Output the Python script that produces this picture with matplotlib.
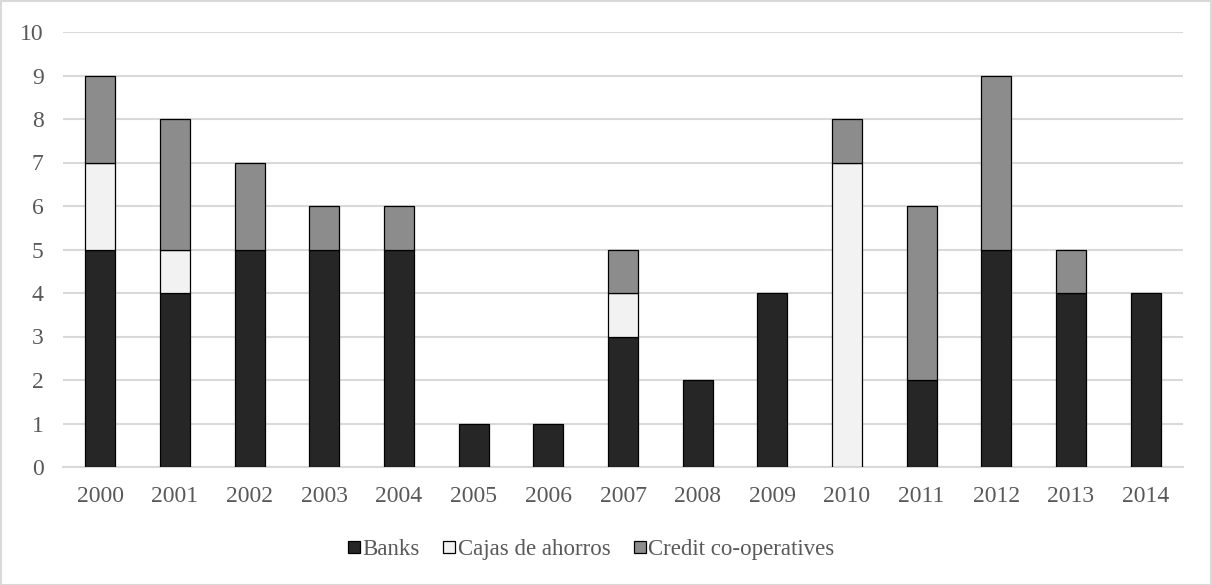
import matplotlib
matplotlib.use("Agg")
import matplotlib.pyplot as plt
from matplotlib.lines import Line2D
from matplotlib.patches import Rectangle
import numpy as np

years = ["2000", "2001", "2002", "2003", "2004", "2005", "2006", "2007",
         "2008", "2009", "2010", "2011", "2012", "2013", "2014"]
banks = [5, 4, 5, 5, 5, 1, 1, 3, 2, 4, 0, 2, 5, 4, 4]
cajas = [2, 1, 0, 0, 0, 0, 0, 1, 0, 0, 7, 0, 0, 0, 0]
credit = [2, 3, 2, 1, 1, 0, 0, 1, 0, 0, 1, 4, 4, 1, 0]

series = [("Banks", banks, "#262626"),
          ("Cajas de ahorros", cajas, "#F2F2F2"),
          ("Credit co-operatives", credit, "#8C8C8C")]

plt.rcParams['font.family'] = ['Liberation Serif', 'DejaVu Serif']

fig = plt.figure(figsize=(12.12, 5.85), dpi=100)
ax = fig.add_axes([63/1212, 1-467/585, (1183-63)/1212, (467-32)/585])

x = np.arange(len(years))
bottom = np.zeros(len(years))
for name, vals, col in series:
    v = np.array(vals, dtype=float)
    mask = v > 0
    ax.bar(x[mask], v[mask], bottom=bottom[mask], width=0.4, color=col,
           edgecolor="black", linewidth=0.9, zorder=3)
    bottom += v

ax.set_xlim(-0.5, len(years) - 0.5)
ax.set_ylim(0, 10)
ax.set_yticks(range(0, 11))
ax.set_xticks(x)
ax.set_xticklabels(years)
ax.yaxis.grid(True, color="#D9D9D9", linewidth=1.5, zorder=0)
ax.set_axisbelow(True)
for s in ["top", "right", "left"]:
    ax.spines[s].set_visible(False)
ax.spines["bottom"].set_color("#D9D9D9")
ax.spines["bottom"].set_linewidth(1.5)
ax.tick_params(axis="both", length=0, labelsize=17, labelcolor="#595959")
ax.tick_params(axis="x", pad=14)
ax.tick_params(axis="y", pad=14)

handles = [Line2D([], [], linestyle="none", marker="s", markersize=8,
                  markerfacecolor=col, markeredgecolor="black",
                  markeredgewidth=0.9, label=name)
           for name, vals, col in series]
leg = fig.legend(handles=handles, loc="center", bbox_to_anchor=(591/1212, 1-549/585),
                 ncol=3, frameon=False, fontsize=16.5, handlelength=0.55,
                 handletextpad=0.1, columnspacing=1.0)
for t in leg.get_texts():
    t.set_color("#595959")

fig.patches.append(Rectangle((0.5/1212, 0.5/585), 1-1.5/1212, 1-1.5/585,
                             transform=fig.transFigure, fill=False,
                             edgecolor="#D9D9D9", linewidth=1.5))

fig.savefig("out.png", dpi=100)
